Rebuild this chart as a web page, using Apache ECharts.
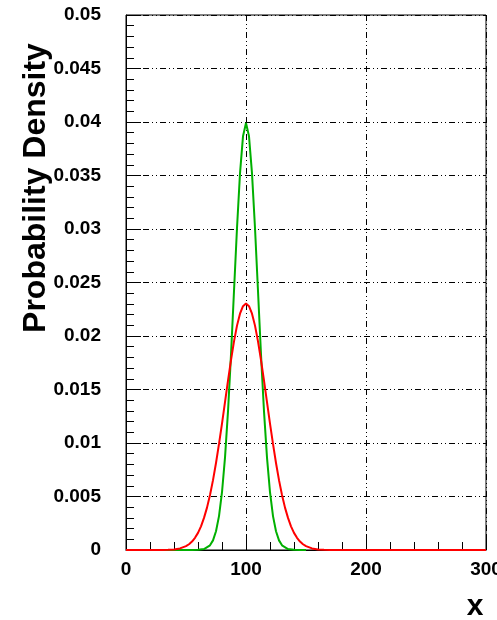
<!DOCTYPE html>
<html>
<head>
<meta charset="utf-8">
<script src="https://cdn.jsdelivr.net/npm/echarts@6/dist/echarts.min.js"></script>
<style>
  html, body { margin: 0; padding: 0; background: #fff; }
  #main { width: 497px; height: 620px; }
</style>
</head>
<body>
<div id="main"></div>
<script>
// values
const greenX = [0, 10, 20, 30, 40, 50, 55, 60, 65, 70, 72.5, 75, 77.5, 80, 82.5, 85, 87.5, 90, 92.5, 95, 97.5, 100,
  102.5, 105, 107.5, 110, 112.5, 115, 117.5, 120, 122.5, 125, 127.5, 130, 135, 140, 145, 150];
const greenY = [0, 0, 0, 0, 0, 0, 0.00001, 0.000013, 0.000087, 0.00044, 0.0009, 0.00175, 0.00317, 0.0054, 0.00863, 0.01295, 0.01826, 0.0242, 0.0301, 0.0352, 0.03866, 0.0399,
  0.03866, 0.0352, 0.0301, 0.0242, 0.01826, 0.01295, 0.00863, 0.0054, 0.00317, 0.00175, 0.0009, 0.00044, 0.000087, 0.000013, 0.00001, 0];

const redX = [0, 10, 20, 30, 35, 40, 45, 50, 52.5, 55, 57.5, 60, 62.5, 65, 67.5, 70, 72.5, 75, 77.5, 80, 82.5, 85, 87.5, 90, 92.5, 95, 97.5, 100,
  102.5, 105, 107.5, 110, 112.5, 115, 117.5, 120, 122.5, 125, 127.5, 130, 132.5, 135, 137.5, 140, 142.5, 145, 147.5, 150,
  155, 160, 165, 170, 180, 200, 250, 300];
const redY = [0, 0, 0, 0.0000065, 0.00002, 0.000057, 0.00015, 0.00036, 0.00054, 0.00079, 0.00114, 0.0016, 0.00221, 0.003, 0.00396, 0.00514, 0.00653, 0.00813, 0.00991, 0.01182, 0.01383, 0.01583, 0.01775, 0.0195, 0.02097, 0.02209, 0.02279, 0.02303,
  0.02279, 0.02209, 0.02097, 0.0195, 0.01775, 0.01583, 0.01383, 0.01182, 0.00991, 0.00813, 0.00653, 0.00514, 0.00396, 0.003, 0.00221, 0.0016, 0.00114, 0.00079, 0.00054, 0.00036,
  0.00015, 0.000057, 0.00002, 0.0000065, 0, 0, 0, 0];

const xTicks = [0, 100, 200, 300];
const yTitle = 'Probability Density';
const xTitle = 'x';

const zip = (xs, ys) => xs.map((x, i) => [x, ys[i]]);

const gridDash = [6, 3, 1, 3, 1, 3];
const labelFont = { fontFamily: 'Liberation Sans', fontWeight: 'bold', fontSize: 19, color: '#000' };

const chart = echarts.init(document.getElementById('main'), null, { renderer: 'canvas' });

const option = {
  animation: false,
  backgroundColor: '#fff',
  grid: {
    left: 126, right: 11, top: 15, bottom: 70,
    outerBoundsMode: 'none',
    containLabel: false,
    show: true, borderColor: '#000', borderWidth: 1, backgroundColor: 'transparent'
  },
  xAxis: {
    type: 'value',
    min: xTicks[0],
    max: xTicks[xTicks.length - 1],
    interval: 100,
    axisLine: { show: true, onZero: false, lineStyle: { color: '#000', width: 1 } },
    axisTick: { show: true, inside: true, length: 15, lineStyle: { color: '#000' } },
    minorTick: { show: true, splitNumber: 5, length: 8, lineStyle: { color: '#000' } },
    axisLabel: Object.assign({ margin: 10, showMaxLabel: true, hideOverlap: false }, labelFont),
    splitLine: { show: true, lineStyle: { color: '#000', width: 1, type: gridDash } }
  },
  yAxis: {
    type: 'value',
    min: 0,
    max: 0.05,
    interval: 0.005,
    axisLine: { show: true, lineStyle: { color: '#000', width: 1 } },
    axisTick: { show: true, inside: true, length: 15, lineStyle: { color: '#000' } },
    minorTick: { show: true, splitNumber: 5, length: 8, lineStyle: { color: '#000' } },
    axisLabel: Object.assign({
      margin: 25,
      formatter: v => String(+v.toFixed(3))
    }, labelFont),
    splitLine: { show: true, lineStyle: { color: '#000', width: 1, type: gridDash } }
  },
  series: [
    {
      type: 'line',
      data: zip(greenX, greenY),
      showSymbol: false,
      lineStyle: { color: '#00b000', width: 2 },
      itemStyle: { color: '#00b000' }
    },
    {
      type: 'line',
      data: zip(redX, redY),
      showSymbol: false,
      lineStyle: { color: '#ff0000', width: 2 },
      itemStyle: { color: '#ff0000' }
    }
  ],
  graphic: [
    {
      type: 'text',
      x: 36, y: 188,
      rotation: Math.PI / 2,
      style: {
        text: yTitle,
        fontFamily: 'Liberation Sans', fontWeight: 'bold', fontSize: 32,
        fill: '#000', align: 'center', verticalAlign: 'middle'
      }
    },
    {
      type: 'text',
      x: 475, y: 607,
      style: {
        text: xTitle,
        fontFamily: 'Liberation Sans', fontWeight: 'bold', fontSize: 30,
        fill: '#000', align: 'center', verticalAlign: 'middle'
      }
    }
  ]
};

chart.setOption(option);
</script>
</body>
</html>
